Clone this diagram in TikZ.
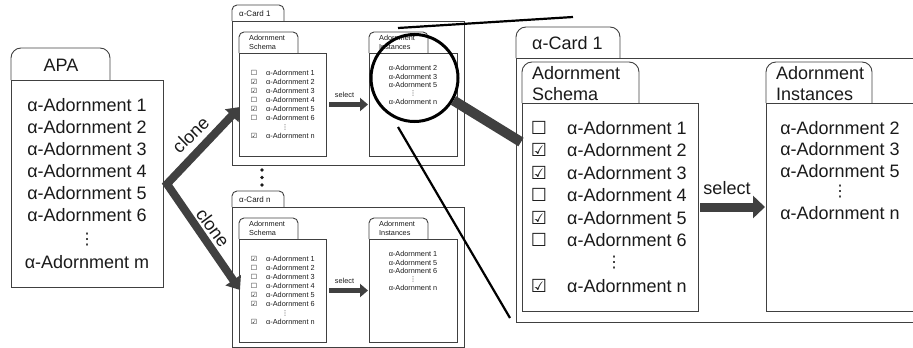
\documentclass[tikz,border=0pt]{standalone}
\usepackage{fontspec}
\setmainfont{Liberation Sans}
\newfontfamily\djv{DejaVu Sans}
\usetikzlibrary{arrows.meta,fit}
\definecolor{boxgray}{HTML}{404040}
\definecolor{arrowgray}{HTML}{404040}
\definecolor{txt}{HTML}{1A1A1A}
\tikzset{
  frame/.style={draw=boxgray, line width=0.9pt},
  panel/.style={frame, rectangle, inner sep=0pt, outer sep=0pt},
  bigtxt/.style={font=\fontsize{18}{21}\selectfont, text=txt, inner sep=0pt, text height=13pt, text depth=0pt},
  smalltxt/.style={font=\fontsize{7.3}{8.5}\selectfont, text=txt, inner sep=0pt, text height=5.2pt, text depth=0pt},
  bigchk/.style={font=\djv\fontsize{18}{20}\selectfont, text=txt, inner sep=0pt},
  smallchk/.style={font=\djv\fontsize{7}{8}\selectfont, text=txt, inner sep=0pt},
  bigdots/.style={font=\djv\fontsize{16}{18}\selectfont, text=txt, inner sep=0pt},
  smalldots/.style={font=\djv\fontsize{6.5}{8}\selectfont, text=txt, inner sep=0pt},
  clonearrow/.style={draw=arrowgray, line width=8pt, line join=miter,
     {Triangle[length=12pt,width=18pt]}-{Triangle[length=12pt,width=18pt]}},
  selsmall/.style={draw=arrowgray, line width=5pt, -{Triangle[length=8pt,width=13pt]}, shorten <=3pt, shorten >=1pt},
  selbig/.style={draw=arrowgray, line width=9pt, -{Triangle[length=12pt,width=22pt]}, shorten <=2pt, shorten >=1pt},
  zoomline/.style={draw=black, line width=2.2pt},
  lensstyle/.style={circle, draw=black, line width=3pt, minimum size=87pt, inner sep=0pt},
  handle/.style={draw=arrowgray, line width=10pt},
}
\newcommand{\smallcard}[6]{%
  \draw[frame, rounded corners=5pt] (232,21) -- (232,5) -- (284,5) -- (284,21);
  \node[panel, fit={(232,21) (464,#3)}] (#1card) {};
  \node[smalltxt, font=\fontsize{8}{9}\selectfont, anchor=west] (#1label) at (239,13.5) {#2};
  \draw[frame, rounded corners=5pt] (239,53) -- (239,32) -- (298,32) -- (298,53);
  \node[panel, fit={(239,53) (326,156)}] (#1schema) {};
  \node[smalltxt, anchor=west] (#1st1) at (249,38) {Adornment};
  \node[smalltxt, anchor=west] (#1st2) at (249,47) {Schema};
  \draw[frame, rounded corners=5pt] (369,53) -- (369,32) -- (428,32) -- (428,53);
  \node[panel, fit={(369,53) (457,156)}] (#1inst) {};
  \node[smalltxt, anchor=west] (#1it1) at (379,38) {Adornment};
  \node[smalltxt, anchor=west] (#1it2) at (379,47) {Instances};
  \foreach \c [count=\i] in {#4} {
    \node[smallchk] (#1c\i) at (254,{73+9*(\i-1)}) {\c};
    \node[smalltxt, anchor=west] (#1a\i) at (266,{73+9*(\i-1)}) {α-Adornment \i};
  }
  \node[smalldots] (#1sd) at (285,127) {⋮};
  \node[smallchk] (#1cn) at (254,136) {☑};
  \node[smalltxt, anchor=west] (#1an) at (266,136) {α-Adornment n};
  \foreach \t [count=\i] in {#5} {
    \node[smalltxt] (#1b\i) at (413,{68+8.5*(\i-1)}) {α-Adornment \t};
  }
  \node[smalldots] (#1id) at (413,93.5) {⋮};
  \node[smalltxt] (#1bn) at (413,102) {α-Adornment n};
  \draw[selsmall] (#1schema.east) -- (#1inst.west)
     node[midway, above=5pt, xshift=-3pt, smalltxt] (#1sel) {select};
}
\begin{document}
\begin{tikzpicture}[x=1pt,y=-1pt]
\useasboundingbox (0,0) rectangle (913,348);
\clip (0,0) rectangle (913,348);

% ---------- APA ----------
\draw[frame, rounded corners=10pt] (11,80) -- (11,48) -- (110,48) -- (110,80);
\node[panel, fit={(11,80) (163,287)}] (apa) {};
\node[bigtxt] (apatitle) at (61,65) {APA};
\foreach \i in {1,...,6} {
  \node[bigtxt] (apa\i) at (87,{105+22*(\i-1)}) {α-Adornment \i};
}
\node[bigdots] (apadots) at (87,240) {⋮};
\node[bigtxt] (apam) at (87,262) {α-Adornment m};

% ---------- small cards ----------
\smallcard{ca}{α-Card 1}{165}{☐,☑,☑,☐,☑,☐}{2,3,5}{}
\begin{scope}[yshift=-186pt]
\smallcard{cn}{α-Card n}{161}{☑,☐,☐,☐,☑,☑}{1,5,6}{}
\end{scope}

% dots between cards
\fill[txt] (262,170) circle (1.8pt) (262,177.5) circle (1.8pt) (262,185) circle (1.8pt);

% ---------- clone arrows ----------
\coordinate (apex) at (167,184);
\coordinate (tipa) at (240,107);
\coordinate (tipn) at (240,290);
\draw[clonearrow] (tipa) -- (apex) -- (tipn);
\node[bigtxt, rotate=44.6] (clonea) at (190.5,134.5) {clone};
\node[bigtxt, rotate=-53.7] (clonen) at (213,227.5) {clone};

% ---------- big card ----------
\draw[frame, rounded corners=10pt] (516,58) -- (516,27) -- (620,27) -- (620,58);
\node[panel, fit={(516,58) (925,322)}] (bcard) {};
\node[bigtxt, anchor=west] (blabel) at (532,43) {α-Card 1};
\draw[frame, rounded corners=10pt] (522,103) -- (522,62) -- (639,62) -- (639,103);
\node[panel, fit={(522,103) (698,311)}] (bschema) {};
\node[bigtxt, anchor=west] (bst1) at (532,73) {Adornment};
\node[bigtxt, anchor=west] (bst2) at (532,94) {Schema};
\draw[frame, rounded corners=10pt] (766,103) -- (766,62) -- (872,62) -- (872,103);
\node[panel, fit={(766,103) (925,311)}] (binst) {};
\node[bigtxt, anchor=west] (bit1) at (776,73) {Adornment};
\node[bigtxt, anchor=west] (bit2) at (776,94) {Instances};
\foreach \c [count=\i] in {☐,☑,☑,☐,☑,☐} {
  \node[bigchk] (bc\i) at (539,{128+22.4*(\i-1)}) {\c};
  \node[bigtxt, anchor=west] (ba\i) at (567,{128+22.4*(\i-1)}) {α-Adornment \i};
}
\node[bigdots] (bsd) at (614,263) {⋮};
\node[bigchk] (bcn) at (539,286) {☑};
\node[bigtxt, anchor=west] (ban) at (567,286) {α-Adornment n};
\foreach \t [count=\i] in {2,3,5} {
  \node[bigtxt] (bb\i) at (840,{128+21.3*(\i-1)}) {α-Adornment \t};
}
\node[bigdots] (bid) at (840,192) {⋮};
\node[bigtxt] (bbn) at (840,213) {α-Adornment n};
\draw[selbig] (bschema.east) -- (binst.west)
   node[midway, above=8pt, xshift=-5pt, bigtxt] (bsel) {select};

% ---------- magnifier ----------
\node[lensstyle] (lens) at (414.5,78) {};
\coordinate (hend) at (521,142);
\draw[handle] (lens.-30) -- (hend);
\coordinate (zla) at (398,28);
\coordinate (zlb) at (573,17);
\coordinate (zlc) at (398,127);
\coordinate (zld) at (510,318);
\draw[zoomline] (zla) -- (zlb);
\draw[zoomline] (zlc) -- (zld);
\end{tikzpicture}
\end{document}
